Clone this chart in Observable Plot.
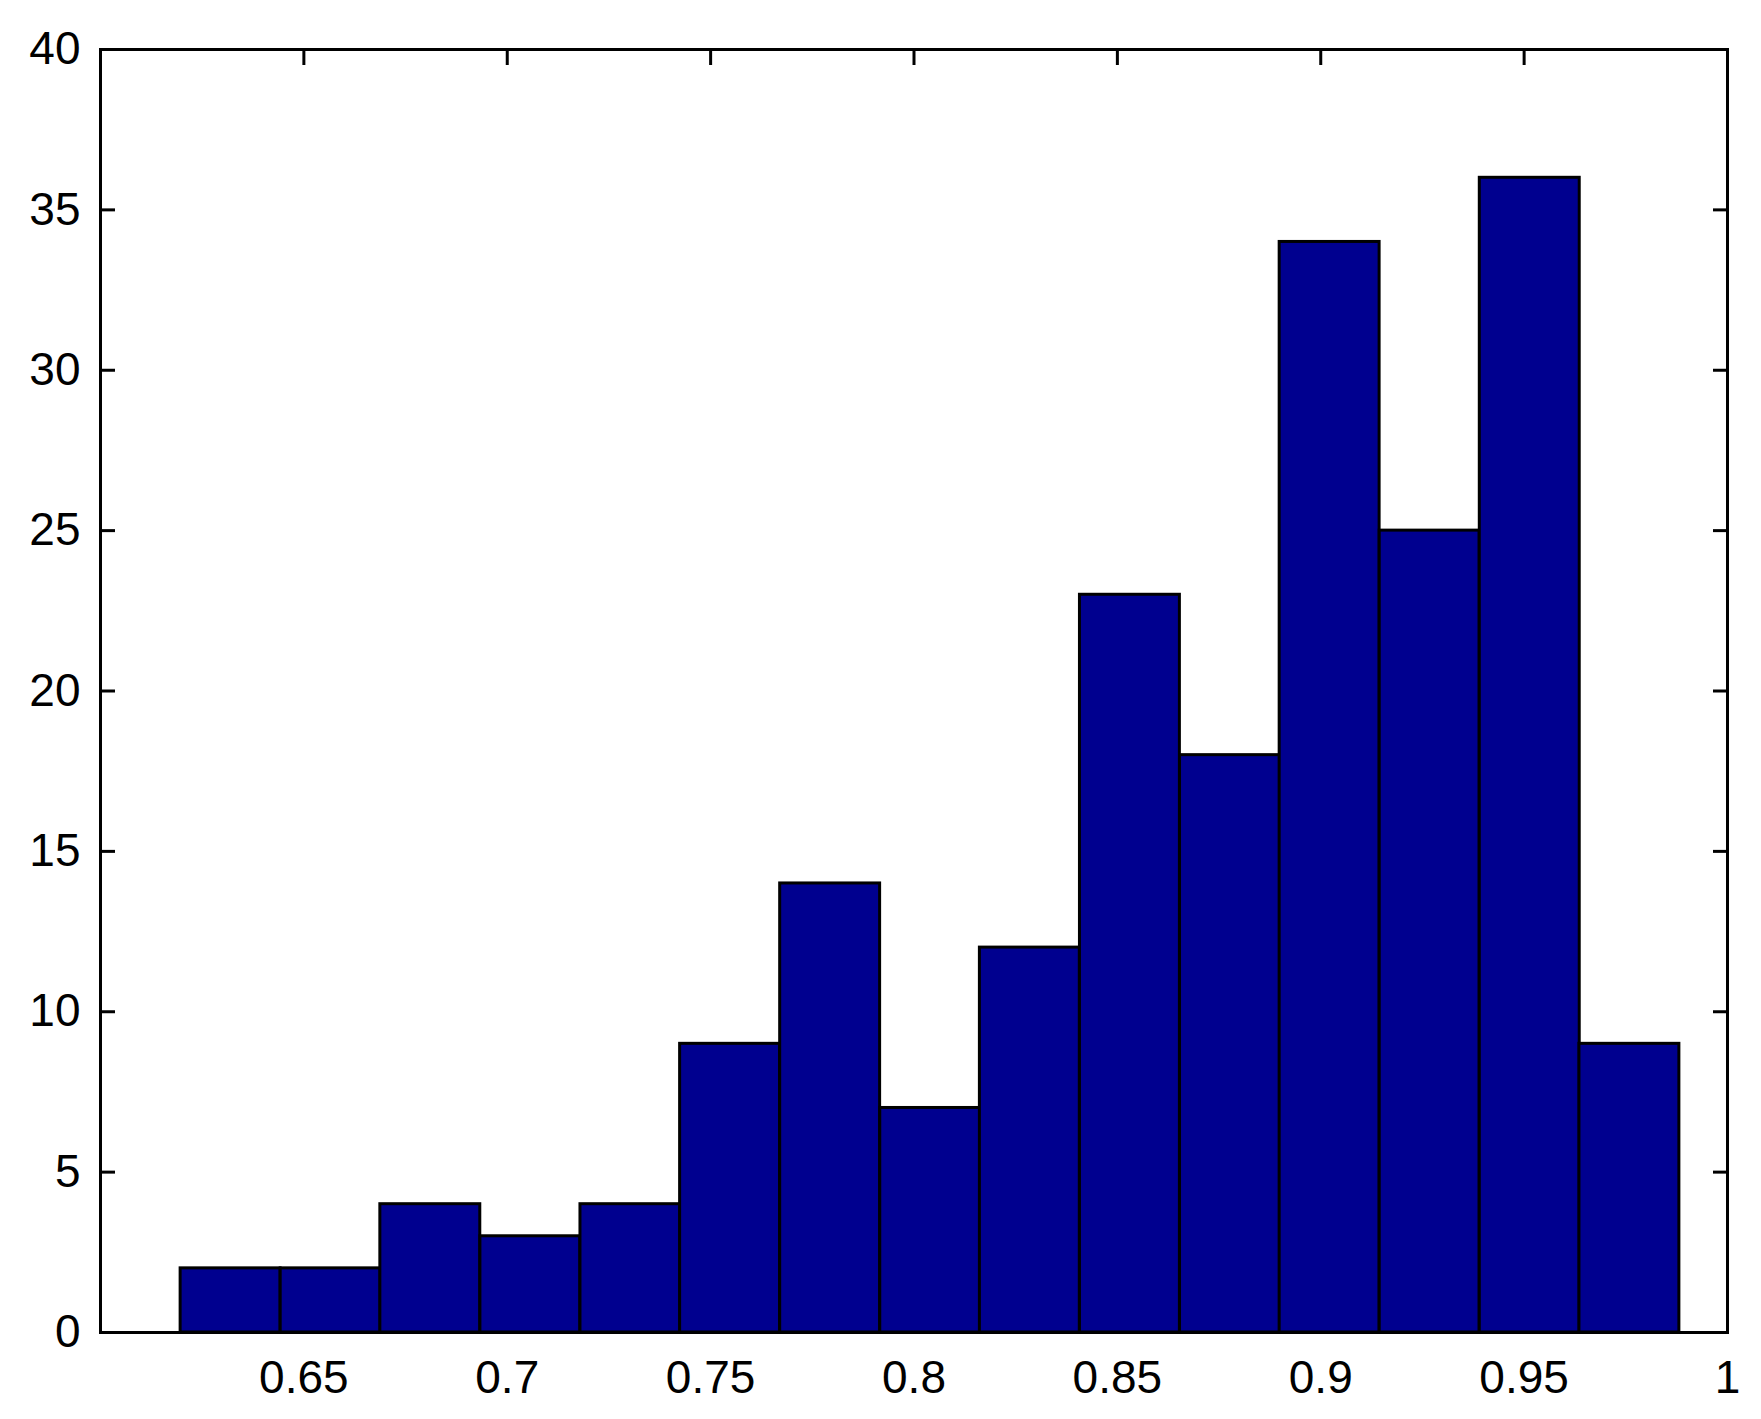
<!DOCTYPE html>
<html>
<head>
<meta charset="utf-8">
<script src="https://cdn.jsdelivr.net/npm/d3@7"></script>
<script src="https://cdn.jsdelivr.net/npm/@observablehq/plot@0.6"></script>
<style>
  html, body { margin: 0; padding: 0; background: #fff; }
</style>
</head>
<body>
<div id="chart"></div>
<script>
// Histogram data
const binStart = [0.6197, 0.6443, 0.6688, 0.6934, 0.7180, 0.7425, 0.7671, 0.7917,
                  0.8162, 0.8408, 0.8654, 0.8899, 0.9145, 0.9391, 0.9636];
const binWidth = 0.02457;
const counts = [2, 2, 4, 3, 4, 9, 14, 7, 12, 23, 18, 34, 25, 36, 9];
const xTicks = [0.65, 0.7, 0.75, 0.8, 0.85, 0.9, 0.95, 1];
const yTicks = [0, 5, 10, 15, 20, 25, 30, 35, 40];

const bins = binStart.map((s, i) => ({x1: s, x2: s + binWidth, count: counts[i]}));

const fontSize = 46;
const chart = Plot.plot({
  width: 1761,
  height: 1419,
  marginLeft: 100,
  marginRight: 34,
  marginTop: 49,
  marginBottom: 87,
  style: {fontFamily: "'Liberation Sans', Arial, sans-serif", fontSize: fontSize + "px", background: "#fff", color: "#000"},
  x: {domain: [0.6, 1]},
  y: {domain: [0, 40]},
  marks: [
    // inward ticks (drawn first, under bars)
    Plot.axisX({anchor: "bottom", ticks: xTicks, tickSize: -15, strokeWidth: 3, fill: "none", label: null, tickFormat: () => ""}),
    Plot.axisX({anchor: "top", ticks: xTicks, tickSize: -15, strokeWidth: 3, fill: "none", label: null, tickFormat: () => ""}),
    Plot.axisY({anchor: "left", ticks: yTicks, tickSize: -15, strokeWidth: 3, fill: "none", label: null, tickFormat: () => ""}),
    Plot.axisY({anchor: "right", ticks: yTicks, tickSize: -15, strokeWidth: 3, fill: "none", label: null, tickFormat: () => ""}),
    Plot.rectY(bins, {x1: "x1", x2: "x2", y: "count", fill: "#00008F", stroke: "#000", strokeWidth: 3}),
    // labels
    Plot.axisX({anchor: "bottom", ticks: xTicks, tickSize: 0, tickPadding: 28, label: null, tickFormat: d => String(d), fontSize: fontSize}),
    Plot.axisY({anchor: "left", ticks: yTicks, tickSize: 0, tickPadding: 20, label: null, tickFormat: d => String(d), fontSize: fontSize}),
    Plot.frame({stroke: "#000", strokeWidth: 3})
  ]
});
document.getElementById("chart").appendChild(chart);
</script>
</body>
</html>
